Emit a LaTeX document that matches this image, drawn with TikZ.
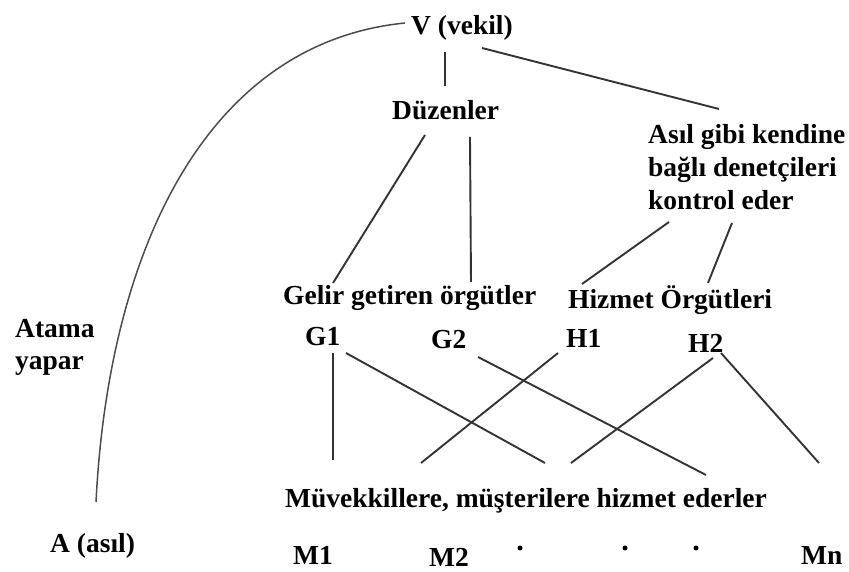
\documentclass[tikz,border=0pt]{standalone}
\usepackage{fontspec}
\setmainfont{Liberation Serif}[BoldFont={Liberation Serif Bold}]
\newfontfamily\diafont{Liberation Serif Bold}
\begin{document}
\begin{tikzpicture}[x=1pt,y=1pt,
  lbl/.style={anchor=base west,inner sep=0pt,font=\diafont\fontsize{27.5}{33}\selectfont},
  conn/.style={draw=black!80,line width=1.9pt},
  arcconn/.style={draw=black!70,line width=1.5pt},
  dotnode/.style={circle,fill=black,inner sep=0pt,minimum size=5pt}]
\useasboundingbox (0,0) rectangle (849,572);
% nodes
\node[lbl] (V) at (411,537) {V (vekil)};
\node[lbl] (Duz) at (392,452) {Düzenler};
\node[lbl] (As1) at (648,428) {Asıl gibi kendine};
\node[lbl] (As2) at (648,395) {bağlı denetçileri};
\node[lbl] (As3) at (648,362) {kontrol eder};
\node[lbl] (Gelir) at (283,267) {Gelir getiren örgütler};
\node[lbl] (Hizmet) at (568,263) {Hizmet Örgütleri};
\node[lbl] (G1) at (305,226) {G1};
\node[lbl] (G2) at (431,223) {G2};
\node[lbl] (H1) at (566,224) {H1};
\node[lbl] (H2) at (688,219) {H2};
\node[lbl] (Atama) at (15,234) {Atama};
\node[lbl] (yapar) at (15,202) {yapar};
\node[lbl] (Muv) at (285,64) {Müvekkillere, müşterilere hizmet ederler};
\node[lbl] (A) at (50,19) {A (asıl)};
\node[lbl] (M1) at (293,7) {M1};
\node[lbl] (M2) at (429,5) {M2};
\node[lbl] (Mn) at (801,7) {Mn};
\node[dotnode] (d1) at (520,24) {};
\node[dotnode] (d2) at (625,24) {};
\node[dotnode] (d3) at (696,24) {};
% connectors
\draw[conn] ([shift={(34,-17)}]V.base west) -- ([shift={(53,34)}]Duz.base west);
\draw[conn] ([shift={(71,-13)}]V.base west) -- ([shift={(71,35)}]As1.base west);
\draw[conn] ([shift={(33,-15)}]Duz.base west) -- ([shift={(50,22)}]Gelir.base west);
\draw[conn] ([shift={(78,-17)}]Duz.base west) -- ([shift={(188,23)}]Gelir.base west);
\draw[conn] ([shift={(21,-12)}]As3.base west) -- ([shift={(14,25)}]Hizmet.base west);
\draw[conn] ([shift={(84,-13)}]As3.base west) -- ([shift={(140,26)}]Hizmet.base west);
\draw[conn] ([shift={(28,-7)}]G1.base west) -- ([shift={(48,48)}]Muv.base west);
\draw[conn] ([shift={(41,-7)}]G1.base west) -- ([shift={(260,45)}]Muv.base west);
\draw[conn] ([shift={(47,-8)}]G2.base west) -- ([shift={(421,33)}]Muv.base west);
\draw[conn] ([shift={(-8,-5)}]H1.base west) -- ([shift={(136,45)}]Muv.base west);
\draw[conn] ([shift={(25,-5)}]H2.base west) -- ([shift={(286,45)}]Muv.base west);
\draw[conn] ([shift={(33,0)}]H2.base west) -- ([shift={(534,45)}]Muv.base west);
\draw[arcconn] ([shift={(-6,12)}]V.base west) .. controls (205,529) and (108.5,320) .. ([shift={(46,51)}]A.base west);
\end{tikzpicture}
\end{document}
